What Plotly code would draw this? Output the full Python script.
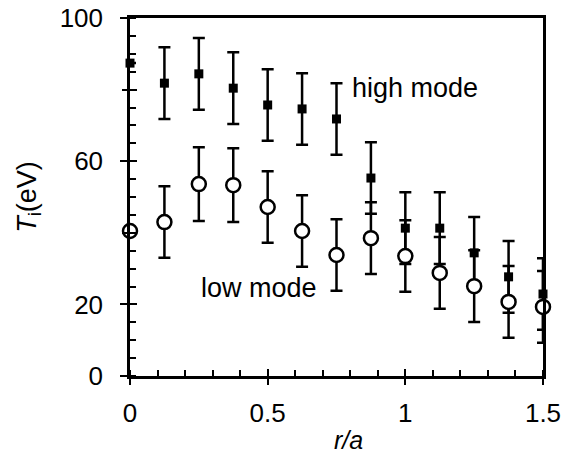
import plotly.graph_objects as go

r_a = [0, 0.125, 0.25, 0.375, 0.5, 0.625, 0.75, 0.875, 1.0, 1.125, 1.25, 1.375, 1.5]
high_mode = [87.4, 81.8, 84.4, 80.4, 75.7, 74.6, 71.8, 55.3, 41.3, 41.3, 34.4, 27.7, 22.9]
high_err = [0, 10, 10, 10, 10, 10, 10, 10, 10, 10, 10, 10, 10]
low_mode = [40.5, 43.0, 53.6, 53.3, 47.2, 40.5, 33.8, 38.5, 33.5, 28.8, 25.1, 20.7, 19.3]
low_err = [0, 10, 10.3, 10.3, 10, 10, 10, 10, 10, 10, 10, 10, 10]

x_ticks = [0, 0.5, 1, 1.5]
x_labels = ["0", "0.5", "1", "1.5"]
y_label_ticks = [0, 20, 60, 100]
y_labels = ["0", "20", "60", "100"]
y_major_ticks = [0, 20, 40, 60, 80, 100]
y_unlabelled_ticks = [40, 80]

FONT = "Liberation Sans, Arial, Helvetica, sans-serif"

fig = go.Figure()
fig.add_trace(go.Scatter(
    x=r_a, y=high_mode, mode="markers", name="high mode",
    marker=dict(symbol="square", size=9, color="black"),
    error_y=dict(type="data", array=high_err, visible=True, color="black", thickness=2.5, width=6),
    cliponaxis=False,
))
fig.add_trace(go.Scatter(
    x=r_a, y=low_mode, mode="markers", name="low mode",
    marker=dict(symbol="circle", size=14, color="white", line=dict(color="black", width=2.5)),
    error_y=dict(type="data", array=low_err, visible=True, color="black", thickness=2.5, width=6),
    cliponaxis=False,
))

fig.add_annotation(x=0.8, y=80.5, text="high mode", showarrow=False, xanchor="left",
                   font=dict(family=FONT, size=27, color="black"))
fig.add_annotation(x=0.25, y=24.5, text="low mode", showarrow=False, xanchor="left",
                   font=dict(family=FONT, size=27, color="black"))
fig.add_annotation(x=0.53, y=-0.18, xref="paper", yref="paper", text="<i>r/a</i>",
                   xanchor="center", yanchor="middle", borderpad=0,
                   showarrow=False, font=dict(family=FONT, size=25, color="black"))

common_line = dict(showline=True, linewidth=2.5, linecolor="black", mirror=True,
                   showgrid=False, zeroline=False, automargin=False)
overlay_common = dict(showticklabels=False, showline=False, showgrid=False, zeroline=False,
                      automargin=False, tickwidth=2, tickcolor="black")

fig.update_layout(
    width=568, height=457,
    margin=dict(l=130, r=25, t=18, b=81),
    plot_bgcolor="white", paper_bgcolor="white",
    showlegend=False,
    font=dict(family=FONT, size=26, color="black"),
    xaxis=dict(
        range=[0, 1.5], tickvals=x_ticks, ticktext=x_labels,
        ticks="outside", ticklen=6, tickwidth=2, tickcolor="black",
        minor=dict(dtick=0.1, ticks="inside", ticklen=6, tickwidth=2, tickcolor="black"),
        ticklabelstandoff=6,
        **common_line,
    ),
    yaxis=dict(
        range=[0, 100], tickvals=y_label_ticks, ticktext=y_labels,
        ticks="outside", ticklen=7, tickwidth=2, tickcolor="black",
        minor=dict(dtick=5, ticks="inside", ticklen=6, tickwidth=2, tickcolor="black"),
        ticklabelstandoff=12,
        title=dict(text="<i>T</i><sub>i</sub>(eV)", standoff=16, font=dict(size=27)),
        **common_line,
    ),
    xaxis2=dict(overlaying="x", range=[0, 1.5], tickvals=x_ticks, ticks="inside", ticklen=7,
                side="bottom", **overlay_common),
    yaxis2=dict(overlaying="y", range=[0, 100], tickvals=y_major_ticks, ticks="inside", ticklen=7,
                side="left", **overlay_common),
    yaxis3=dict(overlaying="y", range=[0, 100], tickvals=y_unlabelled_ticks, ticks="outside", ticklen=7,
                side="left", **overlay_common),
)
fig.add_trace(go.Scatter(x=[None], y=[None], xaxis="x2", yaxis="y2", showlegend=False, hoverinfo="skip"))
fig.add_trace(go.Scatter(x=[None], y=[None], xaxis="x2", yaxis="y3", showlegend=False, hoverinfo="skip"))

fig.write_html("out.html")
